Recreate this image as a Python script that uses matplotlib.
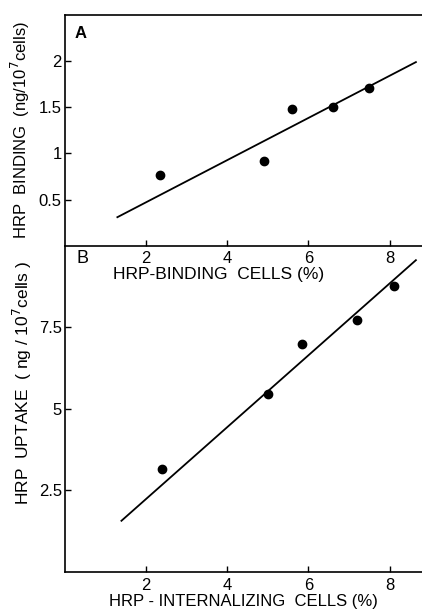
import numpy as np
import matplotlib.pyplot as plt

plt.rcParams['font.family'] = ['Liberation Sans', 'DejaVu Sans']

# panel A: binding
bind_cells = [2.35, 4.9, 5.6, 6.6, 7.5]
bind_hrp = [0.77, 0.92, 1.48, 1.5, 1.71]
bind_fit_x = [1.3, 8.65]
bind_fit_y = [0.31, 1.99]

# panel B: uptake
int_cells = [2.4, 5.0, 5.85, 7.2, 8.12]
int_hrp = [3.17, 5.45, 7.0, 7.74, 8.78]
int_fit_x = [1.4, 8.65]
int_fit_y = [1.57, 9.56]

xticks = [2, 4, 6, 8]
ticks_a = [0.5, 1, 1.5, 2]
ticklabels_a = ['0.5', '1', '1.5', '2']
ticks_b = [2.5, 5, 7.5]
ticklabels_b = ['2.5', '5', '7.5']

fig = plt.figure(figsize=(4.22, 6.13), dpi=100)
axB = fig.add_axes([0.153, 0.0669, 0.847, 0.5321])
axA = fig.add_axes([0.153, 0.599, 0.847, 0.3765])
axA.patch.set_alpha(0)
axB.patch.set_alpha(0)

for ax in (axA, axB):
    ax.spines['right'].set_visible(False)
    for s in ax.spines.values():
        s.set_linewidth(1.2)
    ax.set_xlim(0, 8.8)
    ax.set_xticks(xticks)
    ax.set_xticklabels([str(t) for t in xticks])
    ax.tick_params(direction='in', length=4, width=1, labelsize=12, pad=2)
    ax.tick_params(axis='x', pad=4)

axB.spines['top'].set_visible(False)

axA.set_ylim(0, 2.5)
axA.set_yticks(ticks_a)
axA.set_yticklabels(ticklabels_a)
axA.plot(bind_fit_x, bind_fit_y, color='black', lw=1.3)
axA.plot(bind_cells, bind_hrp, 'o', color='black', ms=6)
axA.set_xlabel('HRP-BINDING  CELLS (%)', fontsize=12.5)
axA.xaxis.set_label_coords(0.43, -0.09)
axA.set_ylabel('HRP  BINDING  (ng/10$^7$cells)', fontsize=12, labelpad=5)
axA.text(0.25, 2.3, 'A', fontsize=12, fontweight='bold', va='center')

axB.set_ylim(0, 10)
axB.set_yticks(ticks_b)
axB.set_yticklabels(ticklabels_b)
axB.plot(int_fit_x, int_fit_y, color='black', lw=1.3)
axB.plot(int_cells, int_hrp, 'o', color='black', ms=6)
axB.set_xlabel('HRP - INTERNALIZING  CELLS (%)', fontsize=12, labelpad=1)
axB.set_ylabel('HRP  UPTAKE  ( ng / 10$^7$cells )', fontsize=12.5)
axB.yaxis.set_label_coords(-0.085, 0.58)
axB.text(0.3, 9.6, 'B', fontsize=13, va='center')

fig.savefig('out.png', dpi=100)
